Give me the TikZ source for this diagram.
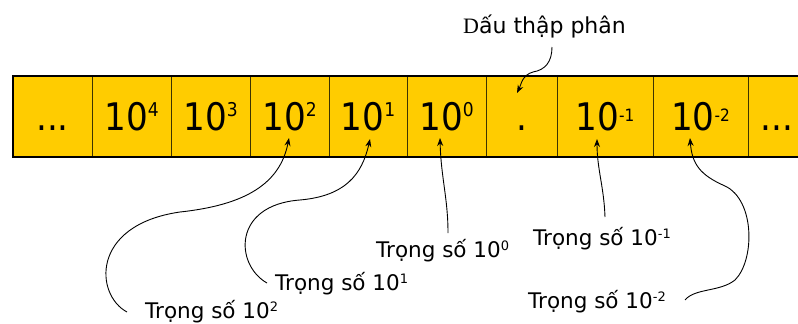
\documentclass[tikz,border=0pt]{standalone}
\usepackage{fontspec}
\setmainfont{DejaVu Sans}
\newfontfamily\cellfont{DejaVu Sans Condensed}
\newfontfamily\serifD{Liberation Serif}
\usetikzlibrary{arrows.meta,positioning,calc}
\definecolor{cellyellow}{HTML}{FFCC00}
\definecolor{celledge}{HTML}{3D3300}
% power of ten inside a cell, and a weight label
\newcommand{\cellpow}[1]{10\raisebox{14.5pt}{\fontsize{19}{19}\selectfont #1}}
\newcommand{\cellneg}[1]{10\raisebox{9.5pt}{\fontsize{17}{17}\selectfont #1}}
\newcommand{\weightof}[1]{Trọng số 10\raisebox{6.5pt}{\fontsize{13}{13}\selectfont #1}}
\begin{document}
\begin{tikzpicture}[x=1pt,y=-1pt,
  cellbox/.style={draw=celledge, line width=0.8pt, fill=cellyellow, minimum height=81pt, outer sep=0pt,
    text height=28pt, text depth=0pt, inner sep=0pt, font=\cellfont\fontsize{38}{42}\selectfont},
  weightlabel/.style={anchor=base west, inner sep=0pt, font=\fontsize{21.5}{26}\selectfont},
  pointer/.style={line width=0.9pt, -{Stealth[length=8pt,width=6pt]}}]
\useasboundingbox (0,0) rectangle (798,324);
\clip (0,0) rectangle (798,324);
% the row of places
\node[cellbox, anchor=west, minimum width=79pt] (dotsL) at (13,116.5) {...};
\node[cellbox, minimum width=79pt, right=0pt of dotsL] (c4) {\cellpow{4}};
\node[cellbox, minimum width=79pt, right=0pt of c4] (c3) {\cellpow{3}};
\node[cellbox, minimum width=79pt, right=0pt of c3] (c2) {\cellpow{2}};
\node[cellbox, minimum width=78pt, right=0pt of c2] (c1) {\cellpow{1}};
\node[cellbox, minimum width=79pt, right=0pt of c1] (c0) {\cellpow{0}};
\node[cellbox, minimum width=71pt, right=0pt of c0] (pt) {.};
\node[cellbox, minimum width=96pt, right=0pt of pt] (cm1) {\cellneg{-1}};
\node[cellbox, minimum width=95pt, right=0pt of cm1] (cm2) {\cellneg{-2}};
\node[cellbox, minimum width=58pt, right=0pt of cm2] (dotsR) {...};
\draw[line width=2pt] ($(dotsR.north east)+(20,0)$) -- (dotsL.north west) -- (dotsL.south west) -- ($(dotsR.south east)+(20,0)$);
% labels
\node[anchor=base west, inner sep=0pt, font=\fontsize{22}{26}\selectfont] (sep) at (463,33) {{\serifD D}ấu thập phân};
\node[weightlabel] (w0) at (376,257) {\weightof{0}};
\node[weightlabel] (w1) at (275,290) {\weightof{1}};
\node[weightlabel] (w2) at (145,318) {\weightof{2}};
\node[weightlabel] (wm1) at (533,245) {\weightof{-1}};
\node[weightlabel] (wm2) at (528,308) {\weightof{-2}};
% pointers
\draw[pointer] ($(sep.base west)+(89,14)$) .. controls +(0,15) and +(12,-2) .. (533,72)
  .. controls +(-11,3) and +(4,-8) .. ($(pt.center)+(-4.5,-23.5)$);
\draw[pointer] ($(w0.base west)+(72,-24)$) .. controls +(0,-35) and +(1,40) .. ($(c0.south)+(-6.5,-19)$);
\draw[pointer] ($(w1.base west)+(-8,-7)$) .. controls +(-32,-18) and +(-68,5) .. (300,200)
  .. controls +(45,-4) and +(-8,36) .. ($(c1.south)+(2,-18)$);
\draw[pointer] ($(w2.base west)+(-18,-6)$) .. controls +(-32,-17) and +(-90,13) .. (180,212)
  .. controls +(65,-7) and +(-9,46) .. ($(c2.south)+(-0.5,-19)$);
\draw[pointer] ($(wm1.base west)+(72,-28)$) .. controls +(-1,-30) and +(0,30) .. ($(cm1.south)+(-8,-18)$);
\draw[pointer] ($(wm2.base west)+(157,-8)$) .. controls +(10,-12) and +(-15,12) .. (735,280)
  .. controls +(20,-20) and +(30,14) .. (725,186)
  .. controls +(-25,-11) and +(2,26) .. ($(cm2.south)+(-10.5,-19)$);
\end{tikzpicture}
\end{document}
